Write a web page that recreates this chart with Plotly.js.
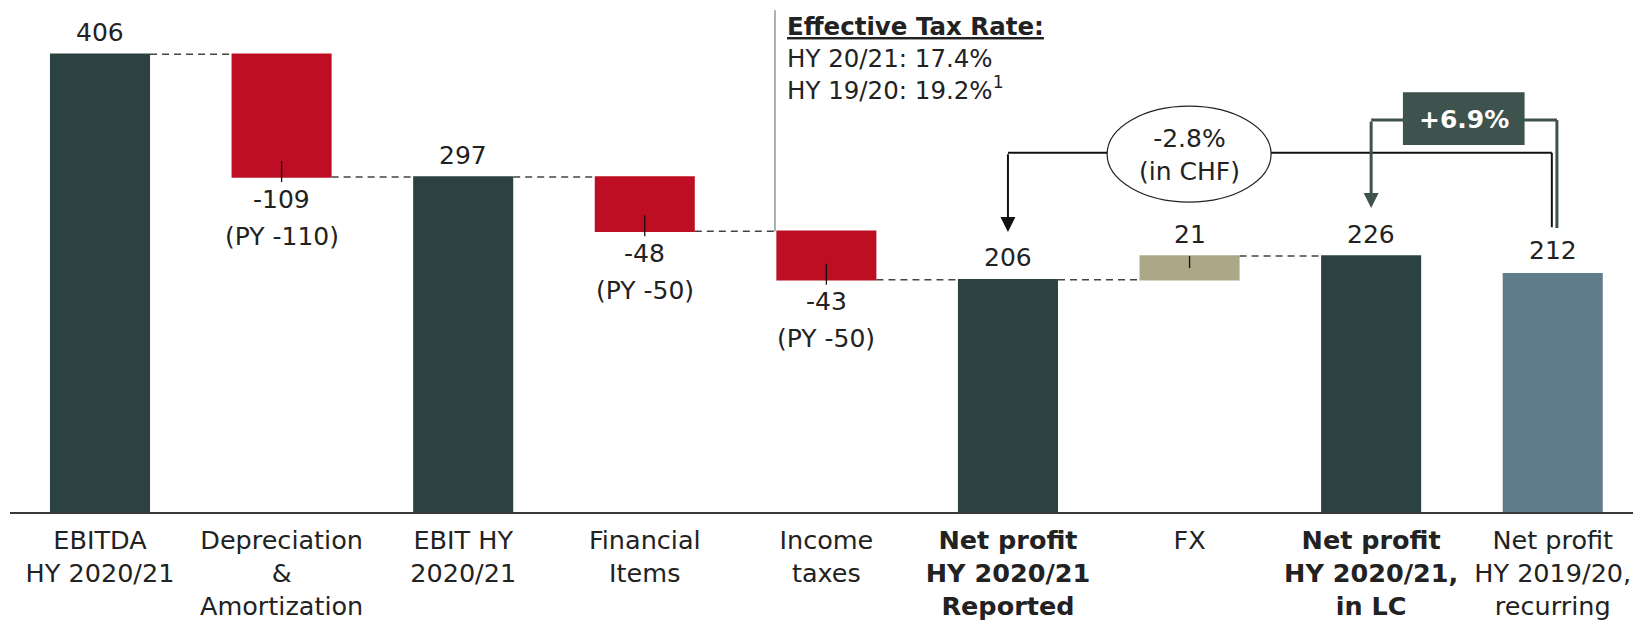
<!DOCTYPE html>
<html>
<head>
<meta charset="utf-8">
<script src="https://cdn.plot.ly/plotly-3.0.1.min.js"></script>
<style>
  html, body { margin: 0; padding: 0; background: #fff; }
  #chart { width: 1633px; height: 623px; }
</style>
</head>
<body>
<div id="chart"></div>
<script>
// waterfall steps
const categories = ['EBITDA', 'DA', 'EBIT', 'FinItems', 'Taxes', 'NetProfit', 'FX', 'NetProfitLC'];
const measures = ['absolute', 'relative', 'total', 'relative', 'relative', 'total', 'relative', 'total'];
const values = [406, -109, 297, -48, -43, 206, 21, 226];
const priorYear = [null, -110, null, -50, -50, null, null, null];

// comparison bar
const compCategory = 'NetProfitPY';
const compValue = 212;

const tickLabels = [
    'EBITDA<br>HY 2020/21',
    'Depreciation<br>&amp;<br>Amortization',
    'EBIT HY<br>2020/21',
    'Financial<br>Items',
    'Income<br>taxes',
    '<b>Net profit</b><br><b>HY 2020/21</b><br><b>Reported</b>',
    'FX',
    '<b>Net profit</b><br><b>HY 2020/21,</b><br><b>in LC</b>',
    'Net profit<br>HY 2019/20,<br>recurring'
];

const taxLines = ['HY 20/21: 17.4%', 'HY 19/20: 19.2%<sup>1</sup>'];
const chfChange = '-2.8%';
const lcChange = '+6.9%';

const FONT = 'DejaVu Sans, Open Sans, sans-serif';
const TXT = '#222222';
const DARK = '#2c4240';
const RED = '#bd0e24';
const KHAKI = '#aca887';
const SLATE = '#5f7c8a';
const BADGE = '#3e524e';

const allCats = categories.concat([compCategory]);

const traces = [{
    type: 'waterfall',
    x: categories,
    y: values,
    measure: measures,
    width: 0.551,
    textinfo: 'none',
    hoverinfo: 'x+y',
    increasing: { marker: { color: KHAKI } },
    decreasing: { marker: { color: RED } },
    totals: { marker: { color: DARK } },
    connector: { mode: 'between', line: { color: '#444', width: 1.5, dash: '7px,5px' } }
}, {
    type: 'bar',
    x: [compCategory],
    y: [compValue],
    width: 0.551,
    marker: { color: SLATE },
    hoverinfo: 'x+y'
}];

// running levels for label positions
const annotations = [];
const shapes = [];
const txtFont = { family: FONT, size: 25, color: TXT };
let run = 0;
categories.forEach((c, i) => {
    const m = measures[i];
    let end;
    if (m === 'absolute') { end = values[i]; }
    else if (m === 'total') { end = run; }
    else { end = run + values[i]; }
    run = end;

    if (m === 'relative' && values[i] < 0) {
        annotations.push({ x: c, y: end, text: String(values[i]), showarrow: false,
            yanchor: 'middle', yshift: -22, font: txtFont });
        if (priorYear[i] !== null) {
            annotations.push({ x: c, y: end, text: '(PY ' + priorYear[i] + ')', showarrow: false,
                yanchor: 'middle', yshift: -59, font: txtFont });
        }
        shapes.push({ type: 'line', xref: 'x', yref: 'y', x0: i, x1: i,
            ysizemode: 'pixel', yanchor: end, y0: -5, y1: 16,
            line: { color: '#111', width: 1.3 } });
    } else {
        annotations.push({ x: c, y: end, text: String(values[i]), showarrow: false,
            yanchor: 'middle', yshift: 22, font: txtFont });
        if (m === 'relative') {
            shapes.push({ type: 'line', xref: 'x', yref: 'y', x0: i, x1: i,
                ysizemode: 'pixel', yanchor: end, y0: 0, y1: -12,
                line: { color: '#111', width: 1.3 } });
        }
    }
});
annotations.push({ x: compCategory, y: compValue, text: String(compValue), showarrow: false,
    yanchor: 'middle', yshift: 22, font: txtFont });

// effective tax rate box
shapes.push({ type: 'line', xref: 'x', yref: 'y', x0: 3.717, x1: 3.717, y0: 249, y1: 445,
    line: { color: '#8c9a98', width: 1.5 } });
annotations.push({
    x: 3.772, y: 402.5, xanchor: 'left', yanchor: 'middle', align: 'left', showarrow: false,
    text: '<b><u>Effective Tax Rate:</u></b><br>' + taxLines.join('<br>'),
    font: { family: FONT, size: 24.5, color: TXT }
});

// CHF comparison bracket
shapes.push({ type: 'line', xref: 'x', yref: 'y', x0: 5, x1: 7.995, y0: 318.5, y1: 318.5,
    line: { color: '#111', width: 2 } });
shapes.push({ type: 'line', xref: 'x', yref: 'y', x0: 7.995, x1: 7.995, y0: 318.5, y1: 252.5,
    line: { color: '#111', width: 2 } });
annotations.push({ x: 5, y: 248.2, ax: 5, ay: 318.5, axref: 'x', ayref: 'y', text: '',
    showarrow: true, arrowhead: 2, arrowsize: 1.5, arrowwidth: 2, arrowcolor: '#111', standoff: 0 });

// LC comparison bracket
shapes.push({ type: 'line', xref: 'x', yref: 'y', x0: 7, x1: 8.023, y0: 347.5, y1: 347.5,
    line: { color: BADGE, width: 3 } });
shapes.push({ type: 'line', xref: 'x', yref: 'y', x0: 8.023, x1: 8.023, y0: 347.5, y1: 251.8,
    line: { color: BADGE, width: 3 } });
annotations.push({ x: 7, y: 269.5, ax: 7, ay: 347.5, axref: 'x', ayref: 'y', text: '',
    showarrow: true, arrowhead: 2, arrowsize: 1, arrowwidth: 3, arrowcolor: BADGE, standoff: 0 });

// ellipse and badge
shapes.push({ type: 'circle', xref: 'x', yref: 'y', x0: 5.546, x1: 6.449, y0: 274.8, y1: 359.9,
    fillcolor: '#ffffff', line: { color: '#222', width: 1.2 } });
annotations.push({ x: 6, y: 317, text: chfChange + '<br>(in CHF)', showarrow: false,
    font: txtFont });
shapes.push({ type: 'rect', xref: 'x', yref: 'y', x0: 7.175, x1: 7.845, y0: 325.4, y1: 372.3,
    fillcolor: BADGE, line: { width: 0 } });
annotations.push({ x: 7.51, y: 348.4, text: '<b>' + lcChange + '</b>', showarrow: false,
    font: { family: FONT, size: 25, color: '#ffffff' } });

const layout = {
    width: 1633, height: 623,
    margin: { l: 10, r: 0, t: 0, b: 111 },
    paper_bgcolor: '#ffffff', plot_bgcolor: '#ffffff',
    showlegend: false,
    xaxis: {
        type: 'category',
        categoryorder: 'array', categoryarray: allCats,
        tickvals: allCats, ticktext: tickLabels,
        range: [-0.4956, 8.442],
        showline: true, linecolor: '#3a3a3a', linewidth: 2,
        ticks: '', showgrid: false, zeroline: false,
        ticklabelstandoff: 4,
        tickfont: { family: FONT, size: 25.5, color: TXT },
        fixedrange: true
    },
    yaxis: { range: [0, 454], visible: false, fixedrange: true },
    shapes: shapes,
    annotations: annotations
};

Plotly.newPlot('chart', traces, layout, { displayModeBar: false, staticPlot: true });
</script>
</body>
</html>
